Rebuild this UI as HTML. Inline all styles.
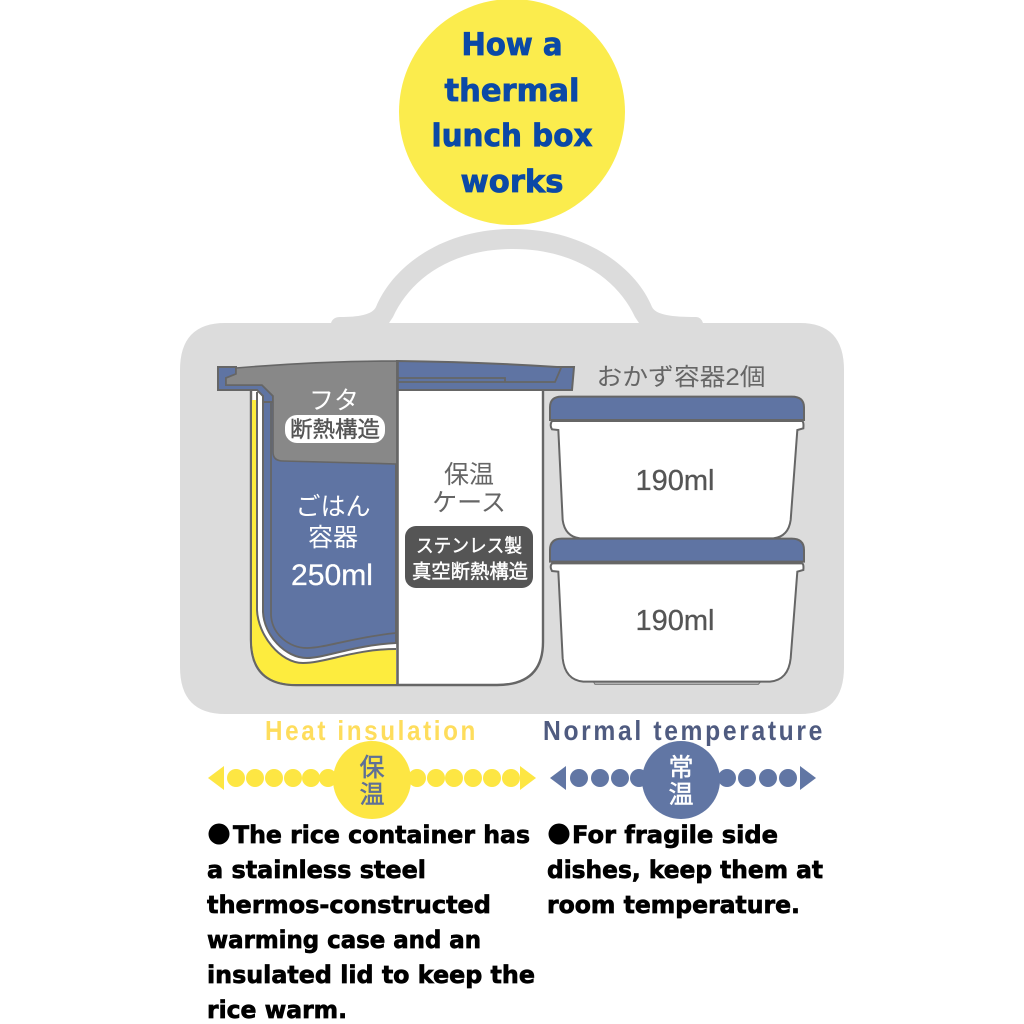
<!DOCTYPE html>
<html><head><meta charset="utf-8">
<style>
html,body{margin:0;padding:0;background:#fff;width:1024px;height:1024px;overflow:hidden}
svg{display:block}
.h{font:bold 31px "DejaVu Sans",sans-serif;fill:#0b49a6;stroke:#0b49a6;stroke-width:.8px;text-anchor:middle}
.b{font:bold 24px "DejaVu Sans",sans-serif;fill:#000;stroke:#000;stroke-width:.7px}
.j{font-family:"Liberation Sans","Noto Sans CJK JP",sans-serif;text-anchor:middle}
.l{font-family:"Liberation Sans",sans-serif;font-weight:bold;font-size:28px;letter-spacing:3px}
</style></head><body>
<svg width="1024" height="1024" viewBox="0 0 1024 1024" xmlns="http://www.w3.org/2000/svg">
<circle cx="512" cy="112" r="113" fill="#fbec4d"/>
<text class="h" x="512" y="55" textLength="101" lengthAdjust="spacingAndGlyphs">How a</text>
<text class="h" x="512" y="101" textLength="135" lengthAdjust="spacingAndGlyphs">thermal</text>
<text class="h" x="512" y="146" textLength="161" lengthAdjust="spacingAndGlyphs">lunch box</text>
<text class="h" x="512" y="192" textLength="103" lengthAdjust="spacingAndGlyphs">works</text>

<!-- bag -->
<path d="M331,323 Q333,317 340,317 C358,317 372,315 376,307 C392,268 440,229 513,229 C586,229 636,268 652,307 C656,315 672,317 696,317 Q701,317 703,323 L800,323 Q844,323 844,370 L844,667 Q844,714 800,714 L225,714 Q180,714 180,667 L180,370 Q180,323 225,323 Z M389,323 L639,323 L635,317 C618,280 576,249 513,249 C450,249 410,280 393,317 Z" fill="#dcdcdc" fill-rule="evenodd"/>

<!-- main container -->
<path d="M251,388 V640 Q251,685 296,685 H497 Q543,685 543,642 V388 Z" fill="#fff" stroke="#666" stroke-width="2.4"/>
<path d="M252,400 H257 V610 C258,635 280,663 303,663 C325,663 355,649 396,649 V684 H296 Q252,684 252,640 Z" fill="#fdec3e"/>
<path d="M257,392 V610 C258,635 280,663 303,663 C325,663 355,649 396,649" fill="none" stroke="#666" stroke-width="2"/>
<path d="M263,396 V612 C264,635 285,658 307,658 C325,658 355,645 396,643 V396 Z" fill="#5f74a3" stroke="#666" stroke-width="2"/>
<path d="M271,396 V615 C272,635 290,648 307,648 C325,648 355,637 396,633" fill="none" stroke="#666" stroke-width="1.8"/>

<!-- lid right -->
<path d="M397,361 Q480,362 557,367 H574 L572,390 H397 Z" fill="#5f74a3" stroke="#666" stroke-width="2"/>
<path d="M397,378 H505 V382 M397,382 H555 L561,368" fill="none" stroke="#666" stroke-width="1.8"/>
<!-- lid left -->
<path d="M218,367 H236 V374 L226,378 V385 H262 L273,396 V402 H263 V396 L257,390 H218 Z" fill="#5f74a3" stroke="#666" stroke-width="2"/>
<path d="M236,368 Q320,361 397,361 V464 L283,461 Q273,461 273,452 V396 L262,385 H226 V378 L236,374 Z" fill="#888" stroke="#666" stroke-width="1.6"/>
<rect x="285" y="415" width="100" height="28" rx="12" fill="#fff"/>
<rect x="405" y="526" width="128" height="62" rx="11" fill="#555"/>
<line x1="397.5" y1="361" x2="397.5" y2="685" stroke="#666" stroke-width="2.6"/>

<text class="j" x="334" y="409" font-size="25" fill="#fff">フタ</text>
<text class="j" x="335" y="437" font-size="22" fill="#555" stroke="#555" stroke-width=".4" textLength="90" lengthAdjust="spacingAndGlyphs">断熱構造</text>
<text class="j" x="333" y="515" font-size="25" fill="#fff">ごはん</text>
<text class="j" x="333" y="546" font-size="25" fill="#fff">容器</text>
<text class="j" x="332" y="585" font-size="30" fill="#fff" stroke="#fff" stroke-width=".3" textLength="82" lengthAdjust="spacingAndGlyphs">250ml</text>
<text class="j" x="469" y="483" font-size="25" fill="#666">保温</text>
<text class="j" x="469" y="511" font-size="25" fill="#666">ケース</text>
<text class="j" x="469" y="552" font-size="19" fill="#fff" stroke="#fff" stroke-width=".4" textLength="106" lengthAdjust="spacingAndGlyphs">ステンレス製</text>
<text class="j" x="470" y="578" font-size="19.5" fill="#fff" stroke="#fff" stroke-width=".4" textLength="116" lengthAdjust="spacingAndGlyphs">真空断熱構造</text>

<!-- side boxes -->
<g transform="translate(540,350) scale(.33333)" stroke="#666" stroke-width="6" fill="#fff">
<path d="M160,995 L165,1003 L655,1003 L662,995 Z" fill="#bbb" stroke="#777" stroke-width="3"/>
<path d="M36,640 L785,640 Q792,640 790,660 L772,665 L752,925 Q745,990 690,995 L130,995 Q75,990 68,925 L55,665 L36,663 Q28,650 36,640 Z"/>
<path d="M30,635 L30,600 Q30,566 65,566 L755,566 Q792,566 792,600 L792,635 Z" fill="#5f74a3"/>
<path d="M36,213 L785,213 Q792,213 790,235 L772,240 L752,510 Q745,560 700,565 L120,565 Q75,560 68,510 L55,240 L36,238 Q28,225 36,213 Z"/>
<path d="M30,210 L30,172 Q30,140 65,140 L755,140 Q792,140 792,172 L792,210 Z" fill="#5f74a3"/>
</g>
<text class="j" x="681" y="385" font-size="24" fill="#666" textLength="169" lengthAdjust="spacingAndGlyphs">おかず容器2個</text>
<text class="j" x="675" y="490" font-size="29" fill="#555" stroke="#555" stroke-width=".3">190ml</text>
<text class="j" x="675" y="630" font-size="29" fill="#555" stroke="#555" stroke-width=".3">190ml</text>

<!-- labels -->
<text class="l" x="265" y="740" fill="#fedd5c" textLength="213" lengthAdjust="spacingAndGlyphs">Heat insulation</text>
<text class="l" x="543" y="740" fill="#4f5b80" textLength="282" lengthAdjust="spacingAndGlyphs">Normal temperature</text>

<!-- scales -->
<g fill="#fde643">
<path d="M208,778 L224,766 L224,790 Z"/><path d="M536,778 L520,766 L520,790 Z"/>
<circle cx="236" cy="778" r="9"/><circle cx="255" cy="778" r="9"/><circle cx="274" cy="778" r="9"/><circle cx="293" cy="778" r="9"/><circle cx="311" cy="778" r="9"/><circle cx="328" cy="778" r="9"/>
<circle cx="417" cy="778" r="9"/><circle cx="436" cy="778" r="9"/><circle cx="454" cy="778" r="9"/><circle cx="473" cy="778" r="9"/><circle cx="492" cy="778" r="9"/><circle cx="511" cy="778" r="9"/>
<circle cx="372" cy="780" r="39"/>
</g>
<g fill="#6176a4">
<path d="M550,778 L566,766 L566,790 Z"/><path d="M816,778 L800,766 L800,790 Z"/>
<circle cx="579" cy="778" r="9"/><circle cx="600" cy="778" r="9"/><circle cx="620" cy="778" r="9"/><circle cx="639" cy="778" r="9"/>
<circle cx="727" cy="778" r="9"/><circle cx="747" cy="778" r="9"/><circle cx="768" cy="778" r="9"/><circle cx="788" cy="778" r="9"/>
<circle cx="681" cy="780" r="39"/>
</g>
<text class="j" x="372" y="776" font-size="25" fill="#5f7096" stroke="#5f7096" stroke-width=".5">保</text>
<text class="j" x="372" y="803" font-size="25" fill="#5f7096" stroke="#5f7096" stroke-width=".5">温</text>
<text class="j" x="681" y="776" font-size="25" fill="#fff" stroke="#fff" stroke-width=".5">常</text>
<text class="j" x="681" y="803" font-size="25" fill="#fff" stroke="#fff" stroke-width=".5">温</text>

<!-- body text -->
<circle cx="219" cy="834" r="10.5" fill="#000"/>
<text class="b" x="233" y="843" textLength="297" lengthAdjust="spacingAndGlyphs">The rice container has</text>
<text class="b" x="207" y="878" textLength="219" lengthAdjust="spacingAndGlyphs">a stainless steel</text>
<text class="b" x="207" y="913" textLength="284" lengthAdjust="spacingAndGlyphs">thermos-constructed</text>
<text class="b" x="207" y="948" textLength="274" lengthAdjust="spacingAndGlyphs">warming case and an</text>
<text class="b" x="207" y="983" textLength="328" lengthAdjust="spacingAndGlyphs">insulated lid to keep the</text>
<text class="b" x="207" y="1018" textLength="140" lengthAdjust="spacingAndGlyphs">rice warm.</text>
<circle cx="559" cy="834" r="10.5" fill="#000"/>
<text class="b" x="572" y="843" textLength="206" lengthAdjust="spacingAndGlyphs">For fragile side</text>
<text class="b" x="547" y="878" textLength="276" lengthAdjust="spacingAndGlyphs">dishes, keep them at</text>
<text class="b" x="547" y="913" textLength="253" lengthAdjust="spacingAndGlyphs">room temperature.</text>
</svg>
</body></html>
